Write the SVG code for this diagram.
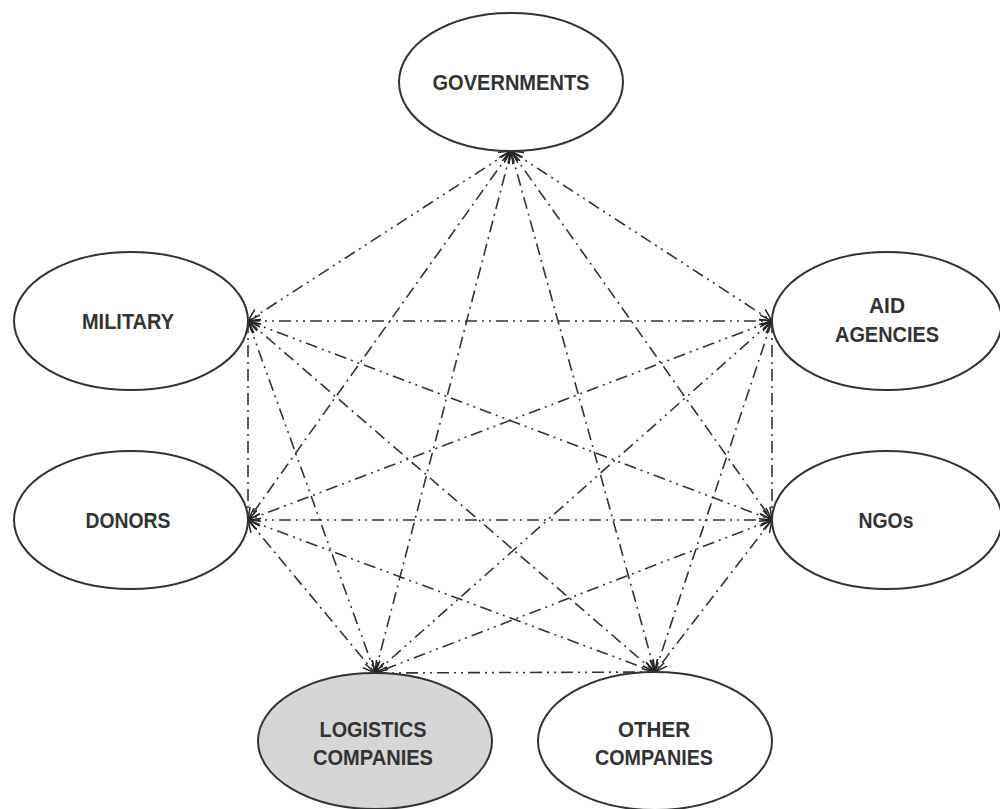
<svg xmlns="http://www.w3.org/2000/svg" width="1000" height="809" viewBox="0 0 1000 809">
<defs>
<marker id="arr" markerUnits="userSpaceOnUse" markerWidth="14" markerHeight="14" refX="12" refY="6" orient="auto-start-reverse" viewBox="0 0 14 12">
<path d="M0,0 L12,6 L0,12" fill="none" stroke="#222" stroke-width="1.5"/>
</marker>
<style>
.n ellipse{fill:#fff;stroke:#333;stroke-width:2}
.n text{font-family:"Liberation Sans",Arial,sans-serif;font-weight:bold;font-size:22px;fill:#333;text-anchor:middle}
.c line{stroke:#333;stroke-width:1.6;fill:none;marker-start:url(#arr);marker-end:url(#arr)}
.a{stroke-dasharray:12 5 2 5 2 5}
.b{stroke-dasharray:12 5 2 5}
</style>
</defs>
<rect width="1000" height="809" fill="#fff"/>
<g class="c" id="connectors">
<line class="a" x1="511" y1="151" x2="248" y2="321"/>
<line class="a" x1="511" y1="151" x2="772" y2="321"/>
<line class="b" x1="511" y1="151" x2="248" y2="520"/>
<line class="b" x1="511" y1="151" x2="772" y2="520"/>
<line class="b" x1="511" y1="151" x2="375" y2="673"/>
<line class="b" x1="511" y1="151" x2="655" y2="672"/>
<line class="a" x1="248" y1="321" x2="772" y2="321"/>
<line class="b" x1="248" y1="321" x2="248" y2="520"/>
<line class="a" x1="248" y1="321" x2="772" y2="520"/>
<line class="a" x1="248" y1="321" x2="375" y2="673"/>
<line class="b" x1="248" y1="321" x2="655" y2="672"/>
<line class="a" x1="772" y1="321" x2="248" y2="520"/>
<line class="b" x1="772" y1="321" x2="772" y2="520"/>
<line class="a" x1="772" y1="321" x2="375" y2="673"/>
<line class="b" x1="772" y1="321" x2="655" y2="672"/>
<line class="a" x1="248" y1="520" x2="772" y2="520"/>
<line class="b" x1="248" y1="520" x2="375" y2="673"/>
<line class="a" x1="248" y1="520" x2="655" y2="672"/>
<line class="a" x1="772" y1="520" x2="375" y2="673"/>
<line class="b" x1="772" y1="520" x2="655" y2="672"/>
<line class="a" x1="375" y1="673" x2="655" y2="672"/>
</g>
<g class="n" id="governments"><ellipse cx="511" cy="82" rx="112" ry="69"/><text x="511" y="90" textLength="157" lengthAdjust="spacingAndGlyphs">GOVERNMENTS</text></g>
<g class="n" id="military"><ellipse cx="131" cy="321" rx="117" ry="69"/><text x="128" y="329" textLength="92" lengthAdjust="spacingAndGlyphs">MILITARY</text></g>
<g class="n" id="aid-agencies"><ellipse cx="887" cy="321" rx="115" ry="69"/><text x="887" y="313" textLength="36" lengthAdjust="spacingAndGlyphs">AID</text><text x="887" y="342" textLength="104" lengthAdjust="spacingAndGlyphs">AGENCIES</text></g>
<g class="n" id="donors"><ellipse cx="131" cy="520" rx="117" ry="69"/><text x="128" y="528" textLength="85" lengthAdjust="spacingAndGlyphs">DONORS</text></g>
<g class="n" id="ngos"><ellipse cx="887" cy="520" rx="115" ry="69"/><text x="886" y="528" textLength="55" lengthAdjust="spacingAndGlyphs">NGOs</text></g>
<g class="n" id="logistics-companies"><ellipse cx="375" cy="741" rx="117" ry="68" style="fill:#d6d6d6"/><text x="373" y="737" textLength="107" lengthAdjust="spacingAndGlyphs">LOGISTICS</text><text x="373" y="765" textLength="120" lengthAdjust="spacingAndGlyphs">COMPANIES</text></g>
<g class="n" id="other-companies"><ellipse cx="655" cy="741" rx="117" ry="69"/><text x="654" y="737" textLength="72" lengthAdjust="spacingAndGlyphs">OTHER</text><text x="654" y="765" textLength="118" lengthAdjust="spacingAndGlyphs">COMPANIES</text></g>
</svg>
